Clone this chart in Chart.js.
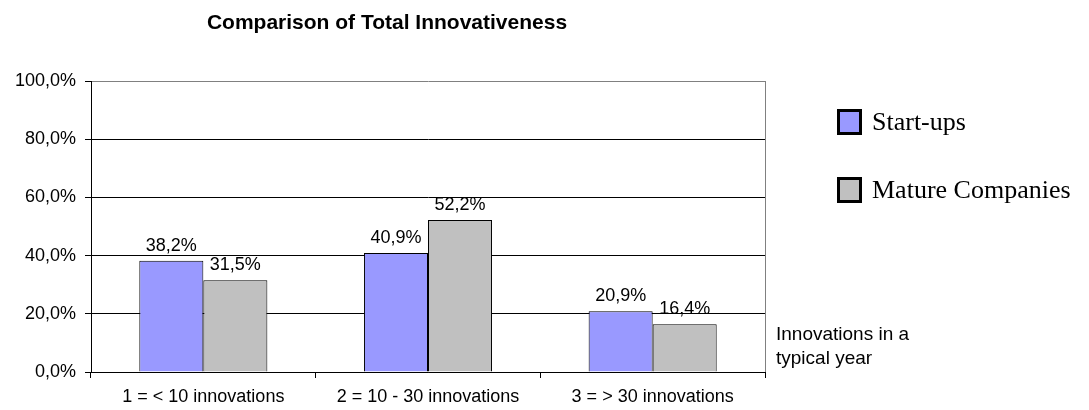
<!DOCTYPE html>
<html><head><meta charset="utf-8">
<script src="https://cdn.jsdelivr.net/npm/chart.js@4/dist/chart.umd.min.js"></script>
<style>html,body{margin:0;padding:0;background:#fff}#wrap{width:1089px;height:410px}</style>
</head><body><div id="wrap"><canvas id="c" width="1089" height="410"></canvas></div>
<script>
const categories = ["1 = < 10 innovations", "2 = 10 - 30 innovations", "3 = > 30 innovations"];
const startups = [38.2, 40.9, 20.9];
const mature = [31.5, 52.2, 16.4];
const seriesNames = ["Start-ups", "Mature Companies"];
const chartTitle = "Comparison of Total Innovativeness";
const axisNote = ["Innovations in a", "typical year"];

const SANS = '"Liberation Sans", Arial, sans-serif';
const fmt = v => v.toFixed(1).replace('.', ',') + '%';

const extras = {
  id: 'extras',
  afterDatasetsDraw(chart) {
    const ctx = chart.ctx, a = chart.chartArea;
    ctx.save();
    ctx.strokeStyle = '#808080'; ctx.lineWidth = 1;
    ctx.beginPath(); ctx.moveTo(a.right + 0.5, a.top); ctx.lineTo(a.right + 0.5, a.bottom); ctx.stroke();
    ctx.fillStyle = '#000'; ctx.font = '18px ' + SANS;
    ctx.textAlign = 'center'; ctx.textBaseline = 'alphabetic';
    chart.data.datasets.forEach((ds, i) => {
      chart.getDatasetMeta(i).data.forEach((bar, j) => {
        ctx.fillText(fmt(ds.data[j]), bar.x, bar.y - 10);
      });
    });
    ctx.font = 'bold 21px ' + SANS;
    ctx.fillText(chartTitle, 387, 29);
    ctx.font = '19px ' + SANS;
    ctx.textAlign = 'left';
    ctx.fillText(axisNote[0], 776, 340);
    ctx.fillText(axisNote[1], 776, 364);
    const items = [[seriesNames[0], '#9999FF', 122], [seriesNames[1], '#C0C0C0', 190]];
    ctx.font = '26px "Liberation Serif", "Times New Roman", serif';
    ctx.textBaseline = 'middle';
    items.forEach(([t, c, y]) => {
      ctx.fillStyle = c; ctx.strokeStyle = '#000'; ctx.lineWidth = 3;
      ctx.fillRect(838.5, y - 11.5, 22, 23); ctx.strokeRect(838.5, y - 11.5, 22, 23);
      ctx.fillStyle = '#000';
      ctx.fillText(t, 872, y + 1);
    });
    ctx.restore();
  }
};

new Chart(document.getElementById('c'), {
  type: 'bar',
  data: {
    labels: categories,
    datasets: [
      { label: seriesNames[0], data: startups, backgroundColor: '#9999FF', borderColor: '#000', borderWidth: 1, borderSkipped: 'bottom' },
      { label: seriesNames[1], data: mature, backgroundColor: '#C0C0C0', borderColor: '#000', borderWidth: 1, borderSkipped: 'bottom' }
    ]
  },
  options: {
    responsive: false, animation: false,
    layout: { padding: { left: 0, right: 324, top: 81, bottom: 0 } },
    plugins: { legend: { display: false }, title: { display: false }, tooltip: { enabled: false } },
    datasets: { bar: { categoryPercentage: 0.57, barPercentage: 1.0 } },
    scales: {
      x: {
        offset: true,
        grid: { offset: true, drawOnChartArea: false, color: '#000', tickLength: 6, lineWidth: 1 },
        border: { color: '#000', width: 1 },
        ticks: { color: '#000', font: { family: SANS, size: 18 }, padding: 8, maxRotation: 0 },
        afterFit: s => { s.height = 38; }
      },
      y: {
        min: 0, max: 100,
        ticks: { stepSize: 20, color: '#000', padding: 9, font: { family: SANS, size: 18 }, callback: v => fmt(v) },
        grid: { color: ctx => ctx.tick && ctx.tick.value === 100 ? '#808080' : '#000', tickColor: '#000', tickLength: 6, lineWidth: 1 },
        border: { color: '#000', width: 1 },
        afterFit: s => { s.width = 91; }
      }
    }
  },
  plugins: [extras]
});
</script></body></html>
